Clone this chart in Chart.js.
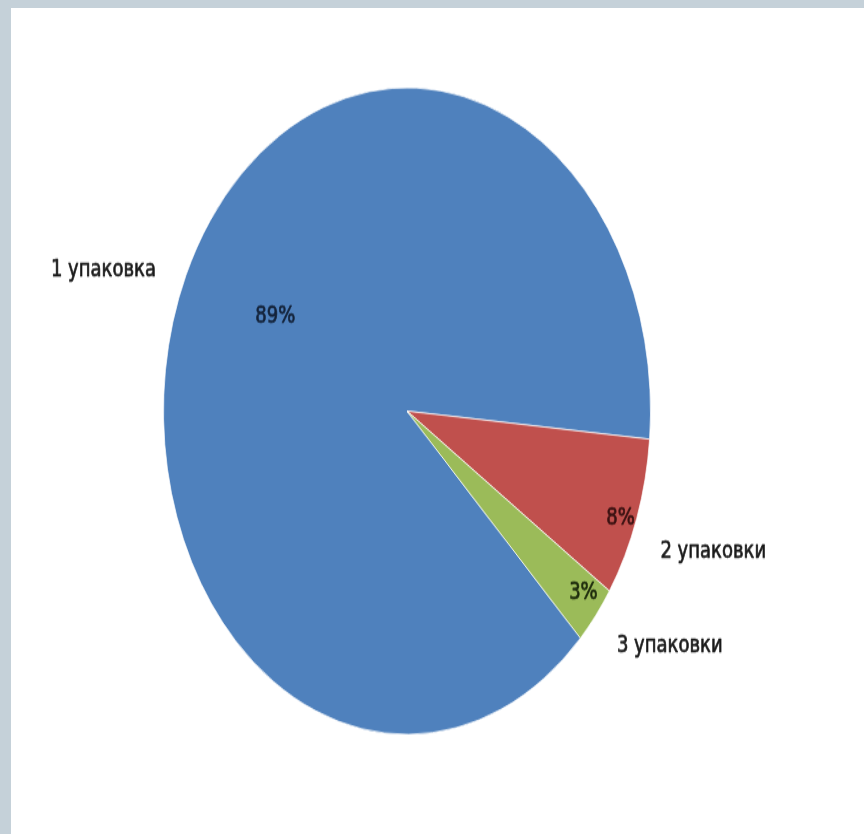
<!DOCTYPE html>
<html>
<head>
<meta charset="utf-8">
<script src="https://cdn.jsdelivr.net/npm/chart.js@4.4.0/dist/chart.umd.min.js"></script>
<style>
    html, body { margin: 0; padding: 0; }
    body { width: 864px; height: 834px; background: #c5d1d9; position: relative; overflow: hidden; }
    .sheet { position: absolute; left: 11px; top: 8px; right: 0; bottom: 0; background: #ffffff; }
    /* круговая диаграмма вытянута по вертикали, как на слайде */
    .wrap { position: absolute; left: 0; top: 0; width: 864px; height: 628px; transform: scaleY(1.328); transform-origin: 0 0; }
</style>
</head>
<body>
<div class="sheet"></div>
<div class="wrap"><canvas id="chart" width="864" height="628"></canvas></div>
<script>
// данные: сколько упаковок покупают за раз
const categories = ['1 упаковка', '2 упаковки', '3 упаковки'];
const shares = [89, 8, 3];
const sliceColors = ['#4f81bd', '#c0504d', '#9bbb59'];
const pctColors = ['#14233a', '#3a1212', '#1c2a0c'];

// подписи: процент внутри сектора, название снаружи
const sliceLabels = {
    id: 'sliceLabels',
    afterDatasetsDraw(chart, args, opts) {
        const ctx = chart.ctx;
        const meta = chart.getDatasetMeta(0);
        const total = shares.reduce((a, b) => a + b, 0);
        ctx.save();
        ctx.textAlign = 'center';
        ctx.textBaseline = 'middle';
        ctx.font = opts.font;
        ctx.lineWidth = 0.6;
        ctx.lineJoin = 'round';

        const put = (text, x, y, color) => {
            ctx.fillStyle = color;
            ctx.strokeStyle = color;
            ctx.fillText(text, x, y);
            ctx.strokeText(text, x, y); // чуть жирнее обычного начертания
        };

        meta.data.forEach((arc, i) => {
            const p = arc.getProps(['x', 'y', 'startAngle', 'endAngle', 'outerRadius'], true);
            const mid = (p.startAngle + p.endAngle) / 2;
            const deg = Math.PI / 180;

            const a1 = mid + opts.pctShift[i] * deg;
            const r1 = p.outerRadius * opts.pctRadius[i];
            put(Math.round(shares[i] / total * 100) + '%', p.x + Math.cos(a1) * r1, p.y + Math.sin(a1) * r1, pctColors[i]);

            const a2 = mid + opts.nameShift[i] * deg;
            const r2 = p.outerRadius * opts.nameRadius[i];
            put(categories[i], p.x + Math.cos(a2) * r2, p.y + Math.sin(a2) * r2, '#1a1a1a');
        });
        ctx.restore();
    }
};

new Chart(document.getElementById('chart'), {
    type: 'pie',
    data: {
        labels: categories,
        datasets: [{
            data: shares,
            backgroundColor: sliceColors,
            borderColor: 'rgba(255,255,255,0.7)',
            borderWidth: 1
        }]
    },
    options: {
        responsive: false,
        animation: false,
        rotation: 134.6,
        layout: { padding: { left: 163, right: 213, top: 65.5, bottom: 74.5 } },
        plugins: {
            legend: { display: false },
            tooltip: { enabled: false },
            sliceLabels: {
                font: '18px "DejaVu Sans"',
                pctRadius: [0.615, 0.938, 0.917],
                pctShift: [3.6, 1.4, -1.4],
                nameRadius: [1.32, 1.331, 1.30],
                nameShift: [-5.6, -0.3, -5.3]
            }
        }
    },
    plugins: [sliceLabels]
});
</script>
</body>
</html>
